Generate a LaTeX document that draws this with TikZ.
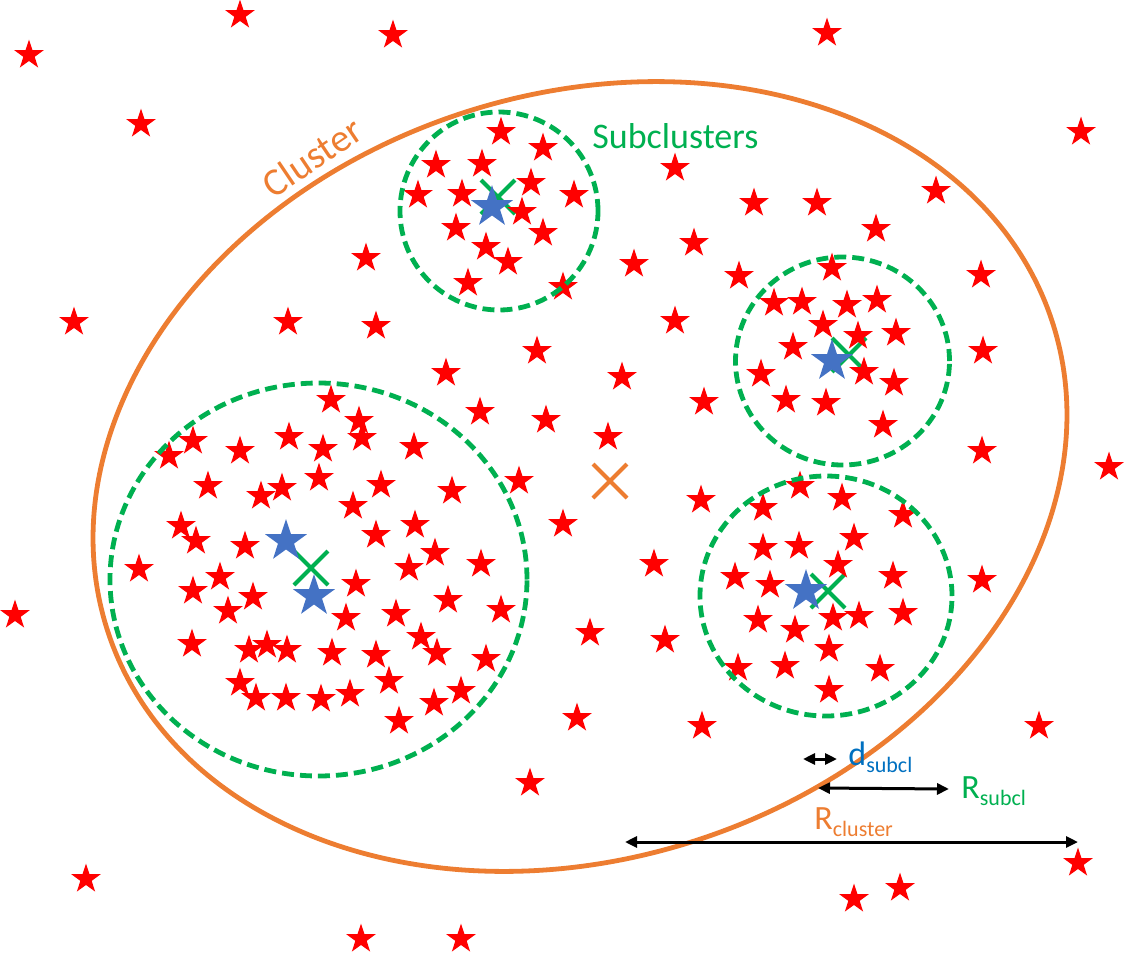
\documentclass[tikz,border=0pt]{standalone}
\usepackage{fontspec}
\setsansfont{Carlito}
\usepackage{tikz}
\usetikzlibrary{shapes.geometric,shapes.misc,arrows.meta}
\definecolor{starred}{HTML}{FF0000}
\definecolor{starblue}{HTML}{4472C4}
\definecolor{subgreen}{HTML}{00B050}
\definecolor{clorange}{HTML}{ED7D31}
\definecolor{dblue}{HTML}{0070C0}
\tikzstyle{redstar}=[star,star points=5,star point ratio=2.6,fill=starred,inner sep=0pt,minimum size=15.5pt]
\tikzstyle{bluestar}=[redstar,fill=starblue,minimum size=22pt]
\tikzstyle{centre}=[cross out,draw=subgreen,line width=2pt,minimum size=15pt,inner sep=0pt]
\tikzstyle{subcl}=[draw=subgreen,line width=2.4pt,dash pattern=on 6pt off 3pt]
\tikzstyle{cluster}=[draw=clorange,line width=2.4pt]
\tikzstyle{measure}=[black,line width=1.5pt,{Triangle[length=6pt,width=5.5pt]}-{Triangle[length=6pt,width=5.5pt]}]
\tikzstyle{lab}=[inner sep=0pt,font=\sffamily\fontsize{17}{19}\selectfont]
\newcommand{\sub}[1]{\raisebox{-3.5pt}{\fontsize{11}{12}\selectfont #1}}

\begin{document}
\begin{tikzpicture}[x=0.5pt,y=-0.5pt,font=\sffamily]
  \useasboundingbox (0,0) rectangle (1125,954);
  \node[centre] (x1) at (498,197) {};
  \node[centre] (x2) at (849,355) {};
  \node[centre] (x3) at (828,591) {};
  \node[centre] (x4) at (311,568) {};
  \node[centre,draw=clorange] (xc) at (610,481) {};
  \foreach \p [count=\i] in {(29,55),(240,15),(393,35),(827,33),(141,124),(1081,132),(74,322),
    (288,322),(366,258),(376,326),(15,615),(1109,467),(86,879),(361,939),(461,939),(854,899),
    (900,888),(1078,863),(1039,726),(530,783),
    (501,132),(543,148),(436,165),(482,164),(531,183),(418,195),(462,194),(574,195),(522,212),
    (456,228),(543,233),(486,247),(508,262),(468,283),(563,287),
    (675,168),(694,243),(634,264),(739,276),(675,321),(754,203),(817,203),(936,191),(876,229),
    (981,275),(537,351),(446,373),(622,377),(704,402),(480,412),(546,420),(608,437),(519,481),
    (701,500),(563,524),(654,564),(735,577),(590,633),(665,640),(738,668),(577,718),(702,726),
    (983,351),(982,451),(982,580),
    (832,268),(774,303),(802,302),(847,305),(877,300),(823,325),(793,347),(858,336),(896,333),
    (761,374),(864,372),(894,383),(786,400),(826,403),(883,425),
    (800,486),(842,498),(763,508),(903,515),(854,538),(763,548),(799,546),(838,565),(893,576),
    (770,585),(833,618),(859,616),(903,613),(758,620),(795,630),(829,649),(785,666),(880,669),
    (829,690),
    (331,400),(359,421),(362,438),(193,441),(169,456),(240,451),(289,437),(323,449),(414,447),
    (208,486),(261,496),(282,488),(319,478),(381,485),(452,491),(353,506),(181,526),(196,541),
    (245,546),(376,535),(415,525),(139,569),(220,577),(193,591),(253,597),(228,611),(356,584),
    (346,618),(409,568),(435,553),(481,564),(448,600),(396,614),(501,610),(192,644),(249,650),
    (267,645),(287,650),(332,653),(376,655),(421,637),(437,653),(486,659),(240,683),(256,698),
    (286,698),(321,699),(350,694),(389,681),(461,691),(434,703),(399,721)}
    \node[redstar] (r\i) at \p {};
  \foreach \p [count=\i] in {(492,207),(832,361),(806,591),(286,541),(314,596)}
    \node[bluestar] (b\i) at \p {};
  \draw[subcl] (499,211) circle [radius=49.5pt];
  \draw[subcl] (842.5,361) ellipse [x radius=53.5pt, y radius=52pt];
  \draw[subcl] (826,596) ellipse [x radius=63pt, y radius=60pt];
  \draw[subcl] (318.5,579.5) ellipse [x radius=104.25pt, y radius=98.25pt];
  \draw[cluster,rotate around={18.3:(580,476.5)}] (580,476.5) ellipse [x radius=248.5pt, y radius=191pt];
  \node[lab,text=clorange,rotate=34,font=\sffamily\fontsize{19.5}{21}\selectfont] (cl) at (312,157) {Cluster};
  \node[lab,text=subgreen,anchor=base west,font=\sffamily\fontsize{18}{20}\selectfont] (sc) at (592,148) {Subclusters};
  \coordinate (dL) at (803,759);
  \coordinate (dR) at (837,759);
  \coordinate (rsL) at (818,788);
  \coordinate (rsR) at (949,789);
  \coordinate (rcL) at (625,842);
  \coordinate (rcR) at (1078,842);
  \draw[measure] (dL) -- (dR);
  \draw[measure] (rsL) -- (rsR);
  \draw[measure] (rcL) -- (rcR);
  \node[lab,text=dblue,anchor=base west] (dl) at (848,765) {d\sub{subcl}};
  \node[lab,text=subgreen,anchor=base west] (rsl) at (961,798) {R\sub{subcl}};
  \node[lab,text=clorange,anchor=base west] (rcl) at (814,829) {R\sub{cluster}};
\end{tikzpicture}
\end{document}
